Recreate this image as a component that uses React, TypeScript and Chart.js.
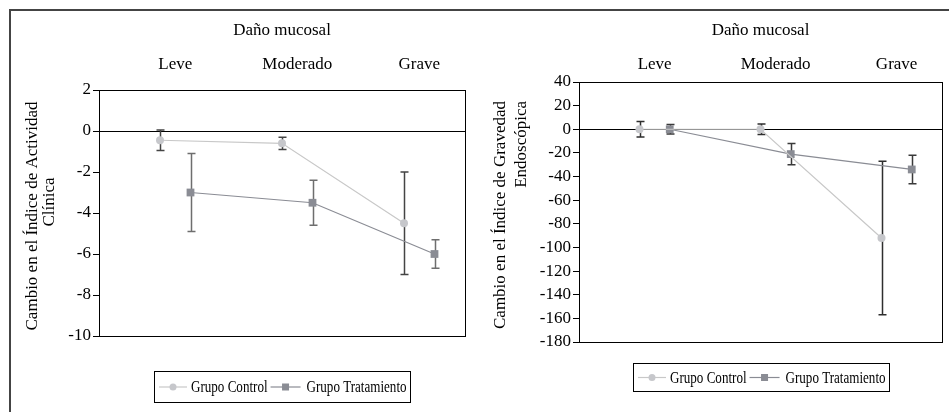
import React, { useEffect, useRef } from 'react';
import { Chart, registerables } from 'chart.js';

Chart.register(...registerables);

// ---------- data ----------
const categories = ['Leve', 'Moderado', 'Grave'];
const topTitle = 'Daño mucosal';
const seriesNames = ['Grupo Control', 'Grupo Tratamiento'];

// Panel 1: Índice de Actividad Clínica
const clinTitle = ['Cambio en el Índice de Actividad', 'Clínica'];
const clinYTicks = [-10, -8, -6, -4, -2, 0, 2];
const clinControlMean = [-0.45, -0.6, -4.5];
const clinControlErr = [0.5, 0.3, 2.5];
const clinTreatMean = [-3.0, -3.5, -6.0];
const clinTreatErr = [1.9, 1.1, 0.7];

// Panel 2: Índice de Gravedad Endoscópica
const endoTitle = ['Cambio en el Índice de Gravedad', 'Endoscópica'];
const endoYTicks = [-180, -160, -140, -120, -100, -80, -60, -40, -20, 0, 20, 40];
const endoControlMean = [0, 0, -92];
const endoControlErr = [6.5, 4.5, 65];
const endoTreatMean = [0, -21, -34];
const endoTreatErr = [4, 9, 12];

// ---------- style / layout ----------
const W = 949;
const H = 412;
const FONT = '"Liberation Serif", "Times New Roman", serif';
const CONTROL_OFFSET = 0.5;
const TREAT_OFFSET = 0.75;
const LABEL_OFFSET = 0.625;
const CONTROL_LINE = '#c8c8c8';
const CONTROL_POINT = '#c6c7cb';
const TREAT_COLOR = '#8a8c94';

type Panel = {
  area: { left: number; top: number; right: number; bottom: number };
  tickPad: number;
  yTicks: number[];
  yTitle: string[];
  titleX: [number, number];
  titleCy: number;
  title2Cy: number;
  title2End: boolean;
  control: number[];
  controlErr: number[];
  treat: number[];
  treatErr: number[];
  controlErrColor: string;
  treatErrColor: string;
  legendTop: number;
  legendHeight: number;
};

const panels: Panel[] = [
  {
    area: { left: 99, top: 90, right: 465, bottom: 336 },
    tickPad: 15,
    yTicks: clinYTicks,
    yTitle: clinTitle,
    titleX: [33, 50],
    titleCy: 216,
    title2Cy: 202,
    title2End: false,
    control: clinControlMean,
    controlErr: clinControlErr,
    treat: clinTreatMean,
    treatErr: clinTreatErr,
    controlErrColor: '#444444',
    treatErrColor: '#6e6e6e',
    legendTop: 371,
    legendHeight: 31,
  },
  {
    area: { left: 579, top: 82, right: 942, bottom: 342 },
    tickPad: 7,
    yTicks: endoYTicks,
    yTitle: endoTitle,
    titleX: [501, 522],
    titleCy: 215,
    title2Cy: 0,
    title2End: true,
    control: endoControlMean,
    controlErr: endoControlErr,
    treat: endoTreatMean,
    treatErr: endoTreatErr,
    controlErrColor: '#2e2e2e',
    treatErrColor: '#3a3a3a',
    legendTop: 363,
    legendHeight: 28,
  },
];

const decorPlugin = {
  id: 'panelDecor',
  beforeDatasetsDraw(chart: any) {
    const { ctx, chartArea: a, scales } = chart;
    ctx.save();
    ctx.strokeStyle = '#000';
    ctx.lineWidth = 1;
    ctx.strokeRect(
      Math.round(a.left) + 0.5,
      Math.round(a.top) + 0.5,
      Math.round(a.right - a.left),
      Math.round(a.bottom - a.top)
    );
    chart.data.datasets.forEach((ds: any) => {
      const err: number[] = ds.errorBars;
      ctx.strokeStyle = ds.errorColor;
      ctx.lineWidth = 1.5;
      ds.data.forEach((p: any, i: number) => {
        const x = Math.round(scales.x.getPixelForValue(p.x)) + 0.5;
        const y1 = scales.y.getPixelForValue(p.y + err[i]);
        const y2 = scales.y.getPixelForValue(p.y - err[i]);
        ctx.beginPath();
        ctx.moveTo(x, y1);
        ctx.lineTo(x, y2);
        ctx.moveTo(x - 4, y1);
        ctx.lineTo(x + 4, y1);
        ctx.moveTo(x - 4, y2);
        ctx.lineTo(x + 4, y2);
        ctx.stroke();
      });
    });
    ctx.restore();
  },
  afterDraw(chart: any, _args: any, opts: any) {
    const { ctx, chartArea: a } = chart;
    const p: Panel = opts.panel;
    // rotated y-axis title
    ctx.save();
    ctx.font = `17px ${FONT}`;
    ctx.fillStyle = '#000';
    ctx.textBaseline = 'middle';
    const w1 = ctx.measureText(p.yTitle[0]).width;
    ctx.save();
    ctx.translate(p.titleX[0], p.titleCy);
    ctx.rotate(-Math.PI / 2);
    ctx.textAlign = 'center';
    ctx.fillText(p.yTitle[0], 0, 0);
    ctx.restore();
    ctx.save();
    if (p.title2End) {
      ctx.translate(p.titleX[1], p.titleCy - w1 / 2);
      ctx.rotate(-Math.PI / 2);
      ctx.textAlign = 'right';
    } else {
      ctx.translate(p.titleX[1], p.title2Cy);
      ctx.rotate(-Math.PI / 2);
      ctx.textAlign = 'center';
    }
    ctx.fillText(p.yTitle[1], 0, 0);
    ctx.restore();
    ctx.restore();

    // legend box
    ctx.save();
    ctx.font = `17px ${FONT}`;
    const sx = 100 / ctx.measureText(seriesNames[1]).width;
    const t1 = ctx.measureText(seriesNames[0]).width * sx;
    const t2 = ctx.measureText(seriesNames[1]).width * sx;
    const total = 5 + 28 + 4 + t1 + 3 + 30 + 6 + t2 + 3;
    const left = Math.round((a.left + a.right) / 2 - total / 2);
    const top = p.legendTop;
    const hgt = p.legendHeight;
    ctx.strokeStyle = '#000';
    ctx.lineWidth = 1;
    ctx.strokeRect(left + 0.5, top + 0.5, Math.round(total), hgt);
    const cy = top + hgt / 2 + 0.5;
    let x = left + 5;
    ctx.strokeStyle = CONTROL_LINE;
    ctx.lineWidth = 1.2;
    ctx.beginPath();
    ctx.moveTo(x, cy);
    ctx.lineTo(x + 28, cy);
    ctx.stroke();
    ctx.fillStyle = CONTROL_POINT;
    ctx.beginPath();
    ctx.arc(x + 14, cy, 3.5, 0, Math.PI * 2);
    ctx.fill();
    x += 28 + 4;
    ctx.fillStyle = '#000';
    ctx.textBaseline = 'middle';
    ctx.textAlign = 'left';
    ctx.save();
    ctx.translate(x, cy + 1);
    ctx.scale(sx, 1);
    ctx.fillText(seriesNames[0], 0, 0);
    ctx.restore();
    x += t1 + 3;
    ctx.strokeStyle = TREAT_COLOR;
    ctx.beginPath();
    ctx.moveTo(x, cy);
    ctx.lineTo(x + 30, cy);
    ctx.stroke();
    ctx.fillStyle = TREAT_COLOR;
    ctx.fillRect(x + 15 - 3.5, cy - 3.5, 7, 7);
    x += 30 + 6;
    ctx.fillStyle = '#000';
    ctx.save();
    ctx.translate(x, cy + 1);
    ctx.scale(sx, 1);
    ctx.fillText(seriesNames[1], 0, 0);
    ctx.restore();
    ctx.restore();
  },
};

function buildChart(canvas: HTMLCanvasElement, p: Panel) {
  const yMin = p.yTicks[0];
  const yMax = p.yTicks[p.yTicks.length - 1];
  return new Chart(canvas, {
    type: 'line',
    data: {
      datasets: [
        {
          label: seriesNames[0],
          data: p.control.map((v, i) => ({ x: i + CONTROL_OFFSET, y: v })),
          borderColor: CONTROL_LINE,
          backgroundColor: CONTROL_POINT,
          pointBackgroundColor: CONTROL_POINT,
          pointBorderWidth: 0,
          pointStyle: 'circle',
          pointRadius: 4,
          borderWidth: 1.2,
          errorBars: p.controlErr,
          errorColor: p.controlErrColor,
        } as any,
        {
          label: seriesNames[1],
          data: p.treat.map((v, i) => ({ x: i + TREAT_OFFSET, y: v })),
          borderColor: TREAT_COLOR,
          backgroundColor: TREAT_COLOR,
          pointBackgroundColor: TREAT_COLOR,
          pointBorderWidth: 0,
          pointStyle: 'rect',
          pointRadius: 5.5,
          borderWidth: 1.2,
          errorBars: p.treatErr,
          errorColor: p.treatErrColor,
        } as any,
      ],
    },
    options: {
      responsive: false,
      animation: false,
      events: [],
      layout: {
        padding: { left: 0, top: 0, right: W - p.area.right, bottom: H - p.area.bottom },
      },
      plugins: {
        legend: { display: false },
        tooltip: { enabled: false },
        panelDecor: { panel: p },
      } as any,
      scales: {
        x: {
          type: 'linear',
          position: 'top',
          min: 0,
          max: categories.length,
          grid: { display: false, drawTicks: false },
          border: { display: false },
          afterBuildTicks: (scale: any) => {
            scale.ticks = categories.map((_, i) => ({ value: i + LABEL_OFFSET }));
          },
          afterFit: (scale: any) => {
            scale.height = p.area.top;
          },
          ticks: {
            autoSkip: false,
            maxRotation: 0,
            padding: p.tickPad,
            color: '#000',
            font: { family: FONT, size: 17 },
            callback: (_v: any, i: number) => categories[i],
          },
          title: {
            display: true,
            text: topTitle,
            color: '#000',
            font: { family: FONT, size: 17 },
            padding: { top: 20, bottom: 0 },
          },
        },
        y: {
          type: 'linear',
          min: yMin,
          max: yMax,
          afterBuildTicks: (scale: any) => {
            scale.ticks = p.yTicks.map((v) => ({ value: v }));
          },
          afterFit: (scale: any) => {
            scale.width = p.area.left;
          },
          border: { display: false },
          grid: {
            drawOnChartArea: true,
            drawTicks: true,
            tickLength: 6,
            tickColor: '#000',
            lineWidth: 1,
            color: (c: any) => (c.tick && c.tick.value === 0 ? '#000' : 'rgba(0,0,0,0)'),
          },
          ticks: {
            autoSkip: false,
            padding: 2,
            color: '#000',
            font: { family: FONT, size: 17 },
            callback: (v: any) => String(v),
          },
        },
      },
    },
    plugins: [decorPlugin as any],
  });
}

function PanelChart({ panel }: { panel: Panel }) {
  const ref = useRef<HTMLCanvasElement | null>(null);
  useEffect(() => {
    if (!ref.current) return;
    const chart = buildChart(ref.current, panel);
    return () => chart.destroy();
  }, [panel]);
  return (
    <canvas
      ref={ref}
      width={W}
      height={H}
      style={{ position: 'absolute', left: 0, top: 0, width: W, height: H }}
    />
  );
}

export default function App() {
  return (
    <div style={{ position: 'absolute', left: 0, top: 0, width: W, height: H, overflow: 'hidden', background: '#fff' }}>
      <div
        style={{
          position: 'absolute',
          left: 9,
          top: 9,
          width: W,
          height: H,
          borderTop: '2px solid #444',
          borderLeft: '2px solid #444',
        }}
      />
      <PanelChart panel={panels[0]} />
      <PanelChart panel={panels[1]} />
    </div>
  );
}
